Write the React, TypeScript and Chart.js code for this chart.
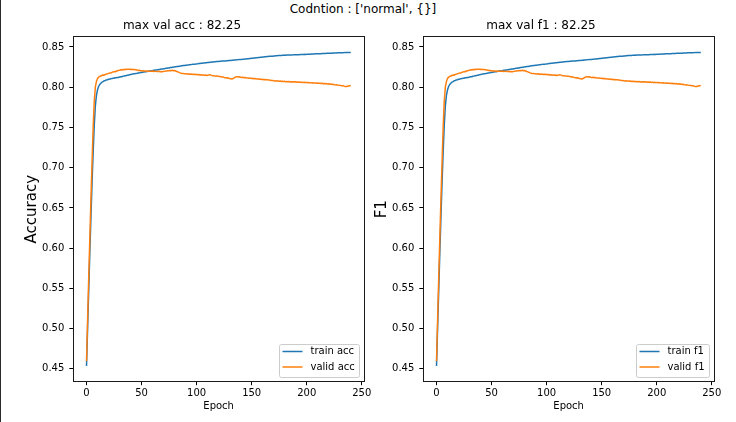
import { useEffect, useRef } from "react";
import { Chart, registerables } from "chart.js";

Chart.register(...registerables);

const FONT = '"DejaVu Sans", sans-serif';
Chart.defaults.font.family = FONT;
Chart.defaults.color = "#000";

const C = {
  blue: "#1f77b4",
  orange: "#ff7f0e",
  frame: "#1a1a1a",
  legendEdge: "#cccccc"
};

// per-epoch training accuracy (0..240)
const trainAcc = [
  0.4535, 0.5010, 0.5475, 0.5942, 0.6378, 0.6805, 0.7182, 0.7518, 0.7763, 0.7898,
  0.7968, 0.8009, 0.8034, 0.8049, 0.8063, 0.8070, 0.8080, 0.8084, 0.8091, 0.8093,
  0.8099, 0.8100, 0.8106, 0.8107, 0.8111, 0.8112, 0.8117, 0.8118, 0.8122, 0.8122,
  0.8126, 0.8129, 0.8131, 0.8136, 0.8138, 0.8143, 0.8144, 0.8149, 0.8150, 0.8155,
  0.8157, 0.8162, 0.8163, 0.8167, 0.8168, 0.8172, 0.8173, 0.8177, 0.8178, 0.8182,
  0.8183, 0.8187, 0.8188, 0.8192, 0.8193, 0.8196, 0.8198, 0.8201, 0.8202, 0.8206,
  0.8207, 0.8210, 0.8211, 0.8215, 0.8216, 0.8218, 0.8221, 0.8222, 0.8226, 0.8227,
  0.8230, 0.8231, 0.8235, 0.8236, 0.8240, 0.8240, 0.8244, 0.8245, 0.8248, 0.8249,
  0.8253, 0.8253, 0.8257, 0.8258, 0.8261, 0.8262, 0.8266, 0.8266, 0.8270, 0.8271,
  0.8274, 0.8274, 0.8277, 0.8278, 0.8280, 0.8281, 0.8284, 0.8284, 0.8287, 0.8288,
  0.8290, 0.8291, 0.8294, 0.8294, 0.8297, 0.8298, 0.8300, 0.8301, 0.8304, 0.8304,
  0.8307, 0.8307, 0.8310, 0.8311, 0.8313, 0.8313, 0.8316, 0.8317, 0.8319, 0.8319,
  0.8321, 0.8322, 0.8323, 0.8325, 0.8325, 0.8327, 0.8327, 0.8329, 0.8329, 0.8331,
  0.8331, 0.8333, 0.8334, 0.8335, 0.8337, 0.8337, 0.8340, 0.8340, 0.8343, 0.8343,
  0.8346, 0.8346, 0.8349, 0.8349, 0.8352, 0.8352, 0.8355, 0.8355, 0.8358, 0.8358,
  0.8361, 0.8361, 0.8364, 0.8364, 0.8367, 0.8367, 0.8370, 0.8370, 0.8373, 0.8373,
  0.8376, 0.8376, 0.8378, 0.8379, 0.8381, 0.8381, 0.8384, 0.8384, 0.8386, 0.8386,
  0.8389, 0.8389, 0.8391, 0.8391, 0.8393, 0.8393, 0.8395, 0.8395, 0.8397, 0.8397,
  0.8399, 0.8398, 0.8400, 0.8400, 0.8401, 0.8401, 0.8402, 0.8402, 0.8403, 0.8403,
  0.8404, 0.8404, 0.8405, 0.8405, 0.8406, 0.8406, 0.8407, 0.8407, 0.8409, 0.8408,
  0.8410, 0.8410, 0.8411, 0.8411, 0.8412, 0.8412, 0.8414, 0.8413, 0.8415, 0.8415,
  0.8416, 0.8416, 0.8417, 0.8417, 0.8419, 0.8418, 0.8420, 0.8420, 0.8421, 0.8421,
  0.8422, 0.8422, 0.8423, 0.8423, 0.8425, 0.8424, 0.8426, 0.8426, 0.8427, 0.8427,
  0.8428, 0.8428, 0.8429, 0.8429, 0.8430, 0.8430, 0.8431, 0.8431, 0.8432, 0.8432, 0.8433
];

// per-epoch validation accuracy (0..240)
const validAcc = [
  0.4594, 0.5120, 0.5630, 0.6120, 0.6600, 0.7050, 0.7480, 0.7820, 0.8000, 0.8070,
  0.8110, 0.8125, 0.8133, 0.8140, 0.8146, 0.8152, 0.8150, 0.8158, 0.8163, 0.8168,
  0.8172, 0.8178, 0.8176, 0.8185, 0.8190, 0.8194, 0.8192, 0.8199, 0.8205, 0.8209,
  0.8212, 0.8217, 0.8215, 0.8220, 0.8218, 0.8223, 0.8221, 0.8225, 0.8222, 0.8224,
  0.8220, 0.8223, 0.8219, 0.8221, 0.8217, 0.8216, 0.8213, 0.8208, 0.8210, 0.8205,
  0.8206, 0.8202, 0.8204, 0.8200, 0.8203, 0.8199, 0.8201, 0.8197, 0.8200, 0.8198,
  0.8201, 0.8196, 0.8199, 0.8197, 0.8194, 0.8198, 0.8195, 0.8192, 0.8196, 0.8193,
  0.8197, 0.8199, 0.8203, 0.8201, 0.8206, 0.8204, 0.8208, 0.8206, 0.8210, 0.8205,
  0.8207, 0.8202, 0.8196, 0.8191, 0.8184, 0.8178, 0.8174, 0.8169, 0.8172, 0.8166,
  0.8168, 0.8163, 0.8167, 0.8162, 0.8165, 0.8160, 0.8163, 0.8158, 0.8161, 0.8157,
  0.8160, 0.8155, 0.8158, 0.8152, 0.8155, 0.8150, 0.8153, 0.8148, 0.8151, 0.8146,
  0.8149, 0.8152, 0.8156, 0.8150, 0.8145, 0.8141, 0.8143, 0.8138, 0.8140, 0.8135,
  0.8137, 0.8132, 0.8129, 0.8126, 0.8128, 0.8122, 0.8119, 0.8115, 0.8117, 0.8112,
  0.8109, 0.8106, 0.8103, 0.8108, 0.8115, 0.8124, 0.8129, 0.8131, 0.8127, 0.8129,
  0.8125, 0.8122, 0.8124, 0.8119, 0.8121, 0.8117, 0.8114, 0.8116, 0.8111, 0.8113,
  0.8109, 0.8111, 0.8106, 0.8108, 0.8104, 0.8101, 0.8103, 0.8099, 0.8101, 0.8096,
  0.8098, 0.8094, 0.8096, 0.8092, 0.8094, 0.8089, 0.8091, 0.8086, 0.8083, 0.8085,
  0.8081, 0.8078, 0.8080, 0.8076, 0.8079, 0.8074, 0.8077, 0.8072, 0.8075, 0.8070,
  0.8073, 0.8069, 0.8072, 0.8067, 0.8070, 0.8066, 0.8069, 0.8065, 0.8068, 0.8064,
  0.8067, 0.8063, 0.8066, 0.8062, 0.8065, 0.8060, 0.8063, 0.8059, 0.8062, 0.8057,
  0.8060, 0.8056, 0.8058, 0.8054, 0.8057, 0.8052, 0.8055, 0.8051, 0.8053, 0.8049,
  0.8052, 0.8048, 0.8050, 0.8046, 0.8049, 0.8044, 0.8046, 0.8042, 0.8045, 0.8040,
  0.8042, 0.8038, 0.8040, 0.8035, 0.8037, 0.8032, 0.8029, 0.8031, 0.8026, 0.8023,
  0.8025, 0.8020, 0.8017, 0.8019, 0.8014, 0.8010, 0.8008, 0.8012, 0.8016, 0.8019, 0.8021
];

// the f1 panel shows the very same curves as the accuracy panel
const trainF1 = trainAcc;
const validF1 = validAcc;

const epochs = trainAcc.map((_, i) => i);
const xTicks = [0, 50, 100, 150, 200, 250];
const yTicks = [0.45, 0.5, 0.55, 0.6, 0.65, 0.7, 0.75, 0.8, 0.85];

const H = 422;

// full axes box like matplotlib spines
const framePlugin = {
  id: "frame",
  afterDatasetsDraw(chart: any) {
    const { ctx, chartArea: a } = chart;
    const l = Math.floor(a.left) + 0.5;
    const t = Math.floor(a.top) + 0.5;
    const r = Math.floor(a.right) + 0.5;
    const b = Math.floor(a.bottom) + 0.5;
    ctx.save();
    ctx.strokeStyle = C.frame;
    ctx.lineWidth = 1;
    ctx.strokeRect(l, t, r - l, b - t);
    ctx.restore();
  }
};

// legend inside the axes, lower right
const legendPlugin = {
  id: "innerLegend",
  afterDraw(chart: any) {
    const { ctx, chartArea: a } = chart;
    const items = chart.data.datasets.map((d: any) => ({ text: String(d.label), color: d.borderColor }));
    ctx.save();
    ctx.font = `10px ${FONT}`;
    const textW = Math.max(...items.map((it: any) => ctx.measureText(it.text).width));
    const w = Math.round(4 + 20 + 8 + textW + 4);
    const h = 33;
    const x = Math.floor(a.right - 4.5 - w) + 0.5;
    const y = Math.floor(a.bottom - 4.5 - h) + 0.5;
    ctx.beginPath();
    ctx.roundRect(x, y, w, h, 2);
    ctx.fillStyle = "rgba(255,255,255,0.8)";
    ctx.fill();
    ctx.strokeStyle = C.legendEdge;
    ctx.lineWidth = 1;
    ctx.stroke();
    items.forEach((it: any, i: number) => {
      const cy = y + 7 + i * 15.5;
      ctx.strokeStyle = it.color;
      ctx.lineWidth = 1.5;
      ctx.beginPath();
      ctx.moveTo(x + 3, cy);
      ctx.lineTo(x + 23, cy);
      ctx.stroke();
      ctx.fillStyle = "#000";
      ctx.textBaseline = "middle";
      ctx.textAlign = "left";
      ctx.fillText(it.text, x + 31, cy);
    });
    ctx.restore();
  }
};

type PanelProps = {
  left: number;
  width: number;
  title: string;
  yLabel: string;
  yTitlePad: number;
  yAxisWidth: number;
  padRight: number;
  train: number[];
  valid: number[];
  trainLabel: string;
  validLabel: string;
};

function Panel(p: PanelProps) {
  const ref = useRef<HTMLCanvasElement | null>(null);
  useEffect(() => {
    if (!ref.current) return;
    const all = [...p.train, ...p.valid];
    const lo = Math.min(...all);
    const hi = Math.max(...all);
    const yPad = (hi - lo) * 0.05;
    const xLo = epochs[0];
    const xHi = epochs[epochs.length - 1];
    const xPad = (xHi - xLo) * 0.05;
    const tickFont = { family: FONT, size: 10 };
    const chart = new Chart(ref.current, {
      type: "line",
      data: {
        datasets: [
          {
            label: p.trainLabel,
            data: p.train.map((v, i) => ({ x: epochs[i], y: v })),
            borderColor: C.blue,
            borderWidth: 1.5,
            pointRadius: 0,
            tension: 0,
            borderJoinStyle: "round",
            order: 1
          },
          {
            label: p.validLabel,
            data: p.valid.map((v, i) => ({ x: epochs[i], y: v })),
            borderColor: C.orange,
            borderWidth: 1.5,
            pointRadius: 0,
            tension: 0,
            borderJoinStyle: "round",
            order: 0
          }
        ]
      },
      options: {
        animation: false,
        responsive: false,
        events: [],
        layout: { padding: { left: 0, right: p.padRight, top: 0, bottom: 0 } },
        plugins: {
          legend: { display: false },
          tooltip: { enabled: false },
          title: {
            display: true,
            text: p.title,
            color: "#000",
            font: { family: FONT, size: 12, weight: "normal" },
            padding: { top: 18.6, bottom: 3.7 }
          }
        },
        scales: {
          x: {
            type: "linear",
            min: xLo - xPad,
            max: xHi + xPad,
            bounds: "data",
            afterBuildTicks: (s: any) => {
              s.ticks = xTicks.map((v) => ({ value: v }));
            },
            ticks: { font: tickFont, color: "#000", padding: 2, maxRotation: 0, autoSkip: false },
            grid: { drawOnChartArea: false, tickLength: 3.5, tickColor: "#000" },
            border: { display: false },
            title: {
              display: true,
              text: "Epoch",
              color: "#000",
              font: { family: FONT, size: 10 },
              padding: { top: 0, bottom: 9.5 }
            },
            afterFit: (s: any) => {
              s.height = 40.3;
              s.paddingLeft = 0;
              s.paddingRight = 0;
            }
          },
          y: {
            type: "linear",
            min: lo - yPad,
            max: hi + yPad,
            bounds: "data",
            afterBuildTicks: (s: any) => {
              s.ticks = yTicks.map((v) => ({ value: v }));
            },
            ticks: {
              font: tickFont,
              color: "#000",
              padding: 5,
              autoSkip: false,
              callback: (v: any) => Number(v).toFixed(2)
            },
            grid: { drawOnChartArea: false, tickLength: 4, tickColor: "#000" },
            border: { display: false },
            title: {
              display: true,
              text: p.yLabel,
              color: "#000",
              font: { family: FONT, size: 15 },
              padding: { top: p.yTitlePad, bottom: 0 }
            },
            afterFit: (s: any) => {
              s.width = p.yAxisWidth;
              s.paddingTop = 0;
              s.paddingBottom = 0;
            }
          }
        }
      },
      plugins: [framePlugin, legendPlugin]
    } as any);
    return () => chart.destroy();
  }, []);
  return <canvas ref={ref} width={p.width} height={H} style={{ position: "absolute", left: p.left, top: 0 }} />;
}

export default function App() {
  return (
    <div
      style={{
        position: "absolute",
        left: 0,
        top: 0,
        width: 736,
        height: H,
        overflow: "hidden",
        background: "#fff",
        fontFamily: FONT
      }}
    >
      <div
        style={{
          position: "absolute",
          left: 0,
          top: 0.5,
          width: 726,
          textAlign: "center",
          fontSize: 12,
          lineHeight: "16px",
          color: "#000"
        }}
      >
        Codntion : ['normal', {"{}"}]
      </div>
      <Panel
        left={0}
        width={400}
        title="max val acc : 82.25"
        yLabel="Accuracy"
        yTitlePad={23}
        yAxisWidth={73.3}
        padRight={36}
        train={trainAcc}
        valid={validAcc}
        trainLabel="train acc"
        validLabel="valid acc"
      />
      <Panel
        left={368}
        width={368}
        title="max val f1 : 82.25"
        yLabel="F1"
        yTitlePad={5}
        yAxisWidth={55.3}
        padRight={22}
        train={trainF1}
        valid={validF1}
        trainLabel="train f1"
        validLabel="valid f1"
      />
      <div style={{ position: "absolute", left: 0, top: 0, width: 1, height: H, background: "#2b2b2b" }} />
    </div>
  );
}
